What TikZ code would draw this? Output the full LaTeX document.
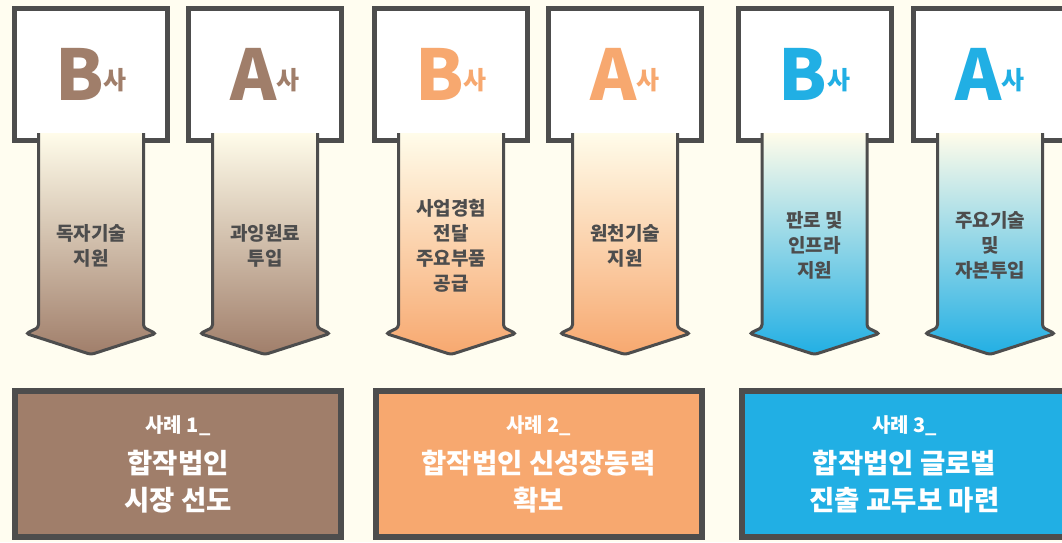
\documentclass[tikz,border=0pt]{standalone}
\usepackage{fontspec}
\setmainfont{Noto Sans CJK KR}
\usetikzlibrary{positioning, calc}

\definecolor{creambg}{HTML}{FFFDF0}
\definecolor{arrowtop}{HTML}{FFFCEA}
\definecolor{framegray}{HTML}{4D4D4D}
\definecolor{brownc}{HTML}{A07E6A}
\definecolor{orangec}{HTML}{F7A86F}
\definecolor{bluec}{HTML}{21AFE4}

\newcommand{\sa}{{\fontsize{25}{25}\selectfont\raisebox{11pt}{사}}}
\newcommand{\casetitle}[1]{{\fontsize{20}{26}\selectfont 사례 #1\_}}

\begin{document}
\begin{tikzpicture}[
    x=1pt, y=-1pt,
    compbox/.style={rectangle, draw=framegray, line width=5pt, fill=white, outer sep=0pt, inner sep=0pt, minimum width=153pt, minimum height=132pt, font=\bfseries\fontsize{70}{70}\selectfont},
    casebox/.style={rectangle, draw=framegray, line width=6pt, outer sep=0pt, minimum width=326pt, minimum height=146pt, align=center, text=white, font=\bfseries\fontsize{27.5}{37}\selectfont},
    flowtext/.style={align=center, text=framegray, font=\bfseries\fontsize{19}{25}\selectfont},
    arrowline/.style={draw=framegray, line width=3pt, rounded corners=3pt}
]
    % background and page size
    \fill[creambg] (0,0) rectangle (1062,542);
    \useasboundingbox (0,0) rectangle (1062,542);

    % companies
    \node[compbox, text=brownc] (b1) at (91,74.5) {B\sa};
    \node[compbox, text=brownc] (a1) at (265,74.5) {A\sa};
    \node[compbox, text=orangec] (b2) at (451,74.5) {B\sa};
    \node[compbox, text=orangec] (a2) at (625,74.5) {A\sa};
    \node[compbox, text=bluec] (b3) at (814.5,74.5) {B\sa};
    \node[compbox, text=bluec] (a3) at (990,74.5) {A\sa};

    % big arrows out of each company
    \foreach \comp/\col in {b1/brownc, a1/brownc, b2/orangec, a2/orangec, b3/bluec, a3/bluec} {
        \begin{scope}[shift={(\comp.south)}]
            \shade[top color=arrowtop, bottom color=\col] (-52.5,-7.5) -- (-52.5,187) -- (-65,193) -- (0,214) -- (65,193) -- (52.5,187) -- (52.5,-7.5) -- cycle;
            \draw[arrowline] (-52.5,-7.5) -- (-52.5,187) -- (-65,193) -- (0,214) -- (65,193) -- (52.5,187) -- (52.5,-7.5);
        \end{scope}
    }

    % what each company brings
    \node[flowtext] (f1) at ($(b1.south)+(0,105)$) {독자기술\\지원};
    \node[flowtext] (f2) at ($(a1.south)+(0,105)$) {과잉원료\\투입};
    \node[flowtext] (f3) at ($(b2.south)+(0,105)$) {사업경험\\전달\\주요부품\\공급};
    \node[flowtext] (f4) at ($(a2.south)+(0,105)$) {원천기술\\지원};
    \node[flowtext] (f5) at ($(b3.south)+(0,105)$) {판로 및\\인프라\\지원};
    \node[flowtext] (f6) at ($(a3.south)+(0,105)$) {주요기술\\및\\자본투입};

    % cases
    \node[casebox, fill=brownc] (case1) at (178,464) {\casetitle{1}\\[4pt]합작법인\\시장 선도};
    \node[casebox, fill=orangec] (case2) at (538.5,464) {\casetitle{2}\\[4pt]합작법인 신성장동력\\확보};
    \node[casebox, fill=bluec] (case3) at (904.5,464) {\casetitle{3}\\[4pt]합작법인 글로벌\\진출 교두보 마련};
\end{tikzpicture}
\end{document}
